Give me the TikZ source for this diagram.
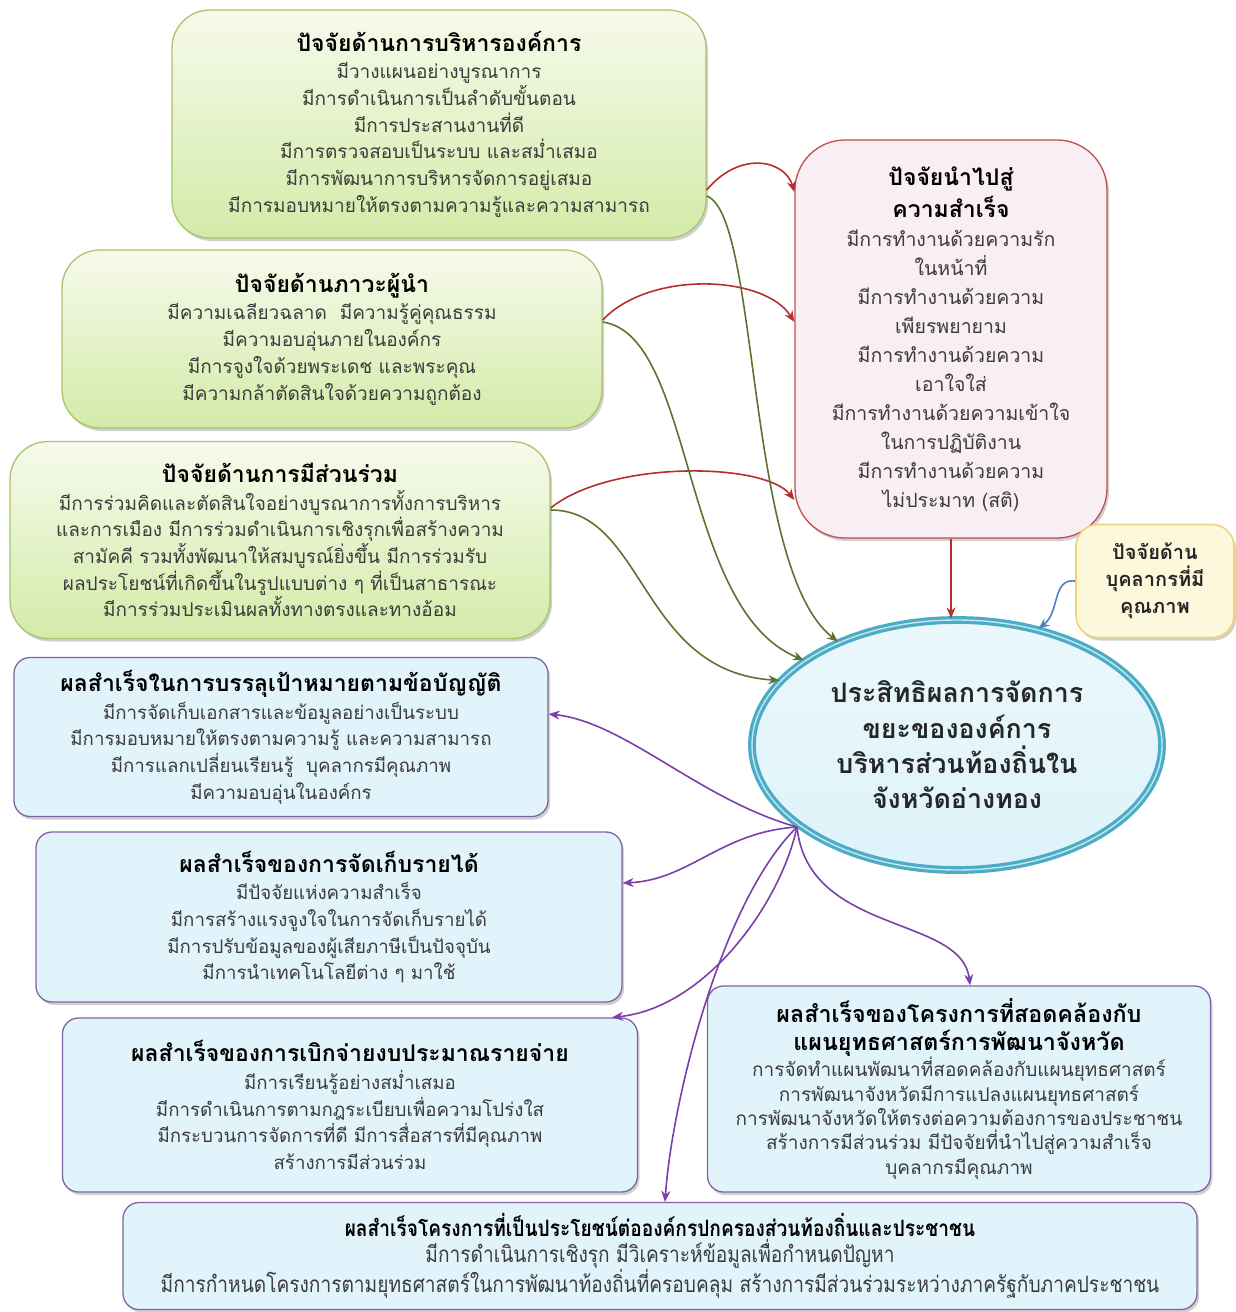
\documentclass[tikz,border=0pt]{standalone}
\usepackage{fontspec}
\setmainfont[Script=Thai]{Loma}
\newfontfamily\condfont[Script=Thai,FakeStretch=0.85]{Loma}
\usetikzlibrary{shadows,arrows.meta,shapes.geometric}
\definecolor{gborder}{HTML}{A9C46C}
\definecolor{gtop}{HTML}{F7FAEC}
\definecolor{gbot}{HTML}{D3EBA8}
\definecolor{pborder}{HTML}{C0504D}
\definecolor{pfill}{HTML}{F8EEF3}
\definecolor{yborder}{HTML}{F1D37A}
\definecolor{yfill}{HTML}{FDF7DC}
\definecolor{bborder}{HTML}{8064A2}
\definecolor{bfill}{HTML}{E2F4FB}
\definecolor{eborder}{HTML}{4BACC6}
\definecolor{efill}{HTML}{DDF3FA}
\definecolor{bodytxt}{HTML}{3C3C3C}
\definecolor{redarr}{HTML}{B5302C}
\definecolor{grnarr}{HTML}{5B7430}
\definecolor{purarr}{HTML}{7A3FA8}
\definecolor{bluarr}{HTML}{4F81BD}
\tikzset{
  shad/.style={drop shadow={shadow xshift=2pt,shadow yshift=-3pt,opacity=0.3,fill=black!60}},
  greenbox/.style={rectangle,rounded corners=38pt,draw=gborder,line width=1.3pt,top color=gtop,bottom color=gbot,align=center,inner sep=0pt,text=bodytxt,shad,font=\fontsize{19pt}{26.7pt}\selectfont},
  pinkbox/.style={rectangle,rounded corners=50pt,draw=pborder,line width=1.3pt,fill=pfill,align=center,inner sep=0pt,text=bodytxt,shad,font=\fontsize{19.5pt}{29pt}\selectfont},
  yelbox/.style={rectangle,rounded corners=22pt,draw=yborder,line width=1.6pt,fill=yfill,align=center,inner sep=0pt,text=black!85,shad,font=\bfseries\fontsize{20pt}{27pt}\selectfont},
  bluebox/.style={rectangle,rounded corners=16pt,draw=bborder,line width=1.3pt,fill=bfill,align=center,inner sep=0pt,text=bodytxt,shad,font=\fontsize{18.7pt}{26.7pt}\selectfont},
  arr/.style={line width=1.6pt,-{Stealth[length=11pt,width=9pt]}},
}
\newcommand{\ttlt}[1]{{\color{black}\bfseries\fontsize{23pt}{26.7pt}\selectfont #1}}
\newcommand{\ttlb}[1]{{\color{black}\bfseries\fontsize{23.3pt}{26.7pt}\selectfont #1}}
\begin{document}
\begin{tikzpicture}[x=1pt,y=-1pt]
\fill[white] (0,0) rectangle (1235,1312);
\useasboundingbox (0,0) rectangle (1235,1312);

% factor boxes
\node[greenbox,minimum width=534pt,minimum height=228pt] (b1) at (439,124) {\ttlt{ปัจจัยด้านการบริหารองค์การ}\\[1pt]
มีวางแผนอย่างบูรณาการ\\
มีการดำเนินการเป็นลำดับขั้นตอน\\
มีการประสานงานที่ดี\\
มีการตรวจสอบเป็นระบบ และสม่ำเสมอ\\
มีการพัฒนาการบริหารจัดการอยู่เสมอ\\
มีการมอบหมายให้ตรงตามความรู้และความสามารถ};

\node[greenbox,minimum width=540pt,minimum height=178pt] (b2) at (332,339) {\ttlt{ปัจจัยด้านภาวะผู้นำ}\\[1pt]
มีความเฉลียวฉลาด\ \ มีความรู้คู่คุณธรรม\\
มีความอบอุ่นภายในองค์กร\\
มีการจูงใจด้วยพระเดช และพระคุณ\\
มีความกล้าตัดสินใจด้วยความถูกต้อง};

\node[greenbox,minimum width=540pt,minimum height=197pt] (b3) at (280,540) {\ttlt{ปัจจัยด้านการมีส่วนร่วม}\\[1pt]
มีการร่วมคิดและตัดสินใจอย่างบูรณาการทั้งการบริหาร\\
และการเมือง มีการร่วมดำเนินการเชิงรุกเพื่อสร้างความ\\
สามัคคี รวมทั้งพัฒนาให้สมบูรณ์ยิ่งขึ้น มีการร่วมรับ\\
ผลประโยชน์ที่เกิดขึ้นในรูปแบบต่าง ๆ ที่เป็นสาธารณะ\\
มีการร่วมประเมินผลทั้งทางตรงและทางอ้อม};

\node[pinkbox,minimum width=312pt,minimum height=398pt] (sf) at (951,339) {\ttlt{ปัจจัยนำไปสู่}\\[3pt]
\ttlt{ความสำเร็จ}\\
มีการทำงานด้วยความรัก\\
ในหน้าที่\\
มีการทำงานด้วยความ\\
เพียรพยายาม\\
มีการทำงานด้วยความ\\
เอาใจใส่\\
มีการทำงานด้วยความเข้าใจ\\
ในการปฏิบัติงาน\\
มีการทำงานด้วยความ\\
ไม่ประมาท (สติ)};

\node[yelbox,minimum width=158pt,minimum height=113pt] (yb) at (1155,581) {ปัจจัยด้าน\\บุคลากรที่มี\\คุณภาพ};

% central ellipse
\node[ellipse,minimum width=410pt,minimum height=250pt,draw=eborder,line width=3.2pt,double=white!70!eborder,double distance=1.4pt,top color=efill!60!white,bottom color=efill,align=center,inner sep=0pt,shad,font=\bfseries\fontsize{26.8pt}{35.3pt}\selectfont,text=black!85] (el) at (957,745) {ประสิทธิผลการจัดการ\\ขยะขององค์การ\\บริหารส่วนท้องถิ่นใน\\จังหวัดอ่างทอง};

% outcome boxes
\node[bluebox,minimum width=534pt,minimum height=159pt] (b7) at (281,737) {\ttlt{ผลสำเร็จในการบรรลุเป้าหมายตามข้อบัญญัติ}\\[1pt]
มีการจัดเก็บเอกสารและข้อมูลอย่างเป็นระบบ\\
มีการมอบหมายให้ตรงตามความรู้ และความสามารถ\\
มีการแลกเปลี่ยนเรียนรู้\ \ บุคลากรมีคุณภาพ\\
มีความอบอุ่นในองค์กร};

\node[bluebox,minimum width=586pt,minimum height=170pt] (b8) at (329,917) {\ttlt{ผลสำเร็จของการจัดเก็บรายได้}\\[1pt]
มีปัจจัยแห่งความสำเร็จ\\
มีการสร้างแรงจูงใจในการจัดเก็บรายได้\\
มีการปรับข้อมูลของผู้เสียภาษีเป็นปัจจุบัน\\
มีการนำเทคโนโลยีต่าง ๆ มาใช้};

\node[bluebox,minimum width=575pt,minimum height=174pt] (b9) at (350,1105) {\ttlt{ผลสำเร็จของการเบิกจ่ายงบประมาณรายจ่าย}\\[1pt]
มีการเรียนรู้อย่างสม่ำเสมอ\\
มีการดำเนินการตามกฎระเบียบเพื่อความโปร่งใส\\
มีกระบวนการจัดการที่ดี มีการสื่อสารที่มีคุณภาพ\\
สร้างการมีส่วนร่วม};

\node[bluebox,minimum width=503pt,minimum height=206pt,font=\fontsize{19pt}{24.4pt}\selectfont] (b10) at (959,1089) {\ttlb{ผลสำเร็จของโครงการที่สอดคล้องกับ}\\[3pt]
\ttlb{แผนยุทธศาสตร์การพัฒนาจังหวัด}\\
การจัดทำแผนพัฒนาที่สอดคล้องกับแผนยุทธศาสตร์\\
การพัฒนาจังหวัดมีการแปลงแผนยุทธศาสตร์\\
การพัฒนาจังหวัดให้ตรงต่อความต้องการของประชาชน\\
สร้างการมีส่วนร่วม มีปัจจัยที่นำไปสู่ความสำเร็จ\\
บุคลากรมีคุณภาพ};

\node[bluebox,minimum width=1074pt,minimum height=107pt,font=\condfont\fontsize{22.5pt}{26.5pt}\selectfont] (b11) at (660,1256) {\textcolor{black}{\bfseries ผลสำเร็จโครงการที่เป็นประโยชน์ต่อองค์กรปกครองส่วนท้องถิ่นและประชาชน}\\
มีการดำเนินการเชิงรุก มีวิเคราะห์ข้อมูลเพื่อกำหนดปัญหา\\
มีการกำหนดโครงการตามยุทธศาสตร์ในการพัฒนาท้องถิ่นที่ครอบคลุม สร้างการมีส่วนร่วมระหว่างภาครัฐกับภาคประชาชน};

% red arrows into success factors
\draw[arr,redarr] ([yshift=-66pt]b1.east) .. controls (740,150) and (785,160) .. ([yshift=147pt]sf.west);
\draw[arr,redarr] ([yshift=19pt]b2.east) .. controls (650,270) and (765,275) .. ([yshift=17pt]sf.west);
\draw[arr,redarr] ([yshift=32pt]b3.east) .. controls (610,460) and (765,462) .. ([yshift=-161pt]sf.west);

% green arrows into ellipse
\draw[arr,grnarr] ([yshift=-72pt]b1.east) .. controls (760,215) and (745,570) .. (el.139);
\draw[arr,grnarr] ([yshift=17pt]b2.east) .. controls (695,335) and (680,610) .. (el.151);
\draw[arr,grnarr] ([yshift=30pt]b3.east) .. controls (645,510) and (640,672) .. (el.160);

% red straight and blue
\draw[arr,redarr] (sf.south) -- (sf.south |- el.north);
\draw[arr,bluarr] (yb.west) .. controls (1052,578) and (1060,612) .. (el.55);

% purple arrows out of ellipse
\coordinate (src) at (797,827);
\draw[arr,purarr] (src) .. controls (700,800) and (625,722) .. ([yshift=23pt]b7.east);
\draw[arr,purarr] (src) .. controls (720,832) and (690,880) .. ([yshift=34pt]b8.east);
\draw[arr,purarr] (src) .. controls (780,905) and (705,1008) .. ([xshift=-26pt]b9.north east);
\draw[arr,purarr] (src) .. controls (722,900) and (672,1100) .. ([xshift=5pt]b11.north);
\draw[arr,purarr] (src) .. controls (808,935) and (962,915) .. ([xshift=11pt]b10.north);
\end{tikzpicture}
\end{document}
